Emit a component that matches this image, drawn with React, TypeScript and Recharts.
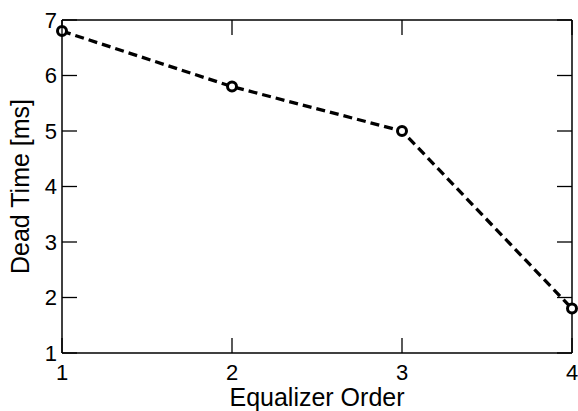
import React from "react";
import { LineChart, Line, XAxis, YAxis, Label } from "recharts";

const orders = [1, 2, 3, 4];
const deadTime = [6.8, 5.8, 5.0, 1.8];
const xTicks = [1, 2, 3, 4];
const yTicks = [1, 2, 3, 4, 5, 6, 7];

const data = orders.map((o, i) => ({ order: o, dead: deadTime[i] }));

const FONT = "'Liberation Sans', Arial, Helvetica, sans-serif";
const TICK_LEN = 15;
const TICK_STROKE = 1.3;

const LeftTick = (props: any) => {
  const { x, y, payload } = props;
  const axisX = x + 5;
  return (
    <g>
      <line x1={axisX} x2={axisX + TICK_LEN} y1={y} y2={y} stroke="#000" strokeWidth={TICK_STROKE} />
      <text x={x} y={y} textAnchor="end" dominantBaseline="central" fill="#000" fontSize={22} fontFamily={FONT}>
        {payload.value}
      </text>
    </g>
  );
};

const BottomTick = (props: any) => {
  const { x, y, payload } = props;
  const axisY = y - 10;
  return (
    <g>
      <line x1={x} x2={x} y1={axisY} y2={axisY - TICK_LEN} stroke="#000" strokeWidth={TICK_STROKE} />
      <text x={x} y={y} textAnchor="middle" dy="0.78em" fill="#000" fontSize={22} fontFamily={FONT}>
        {payload.value}
      </text>
    </g>
  );
};

const RightTick = (props: any) => {
  const { x, y } = props;
  return <line x1={x} x2={x - TICK_LEN} y1={y} y2={y} stroke="#000" strokeWidth={TICK_STROKE} />;
};

const TopTick = (props: any) => {
  const { x, y } = props;
  return <line x1={x} x2={x} y1={y} y2={y + TICK_LEN} stroke="#000" strokeWidth={TICK_STROKE} />;
};

export default function App() {
  return (
    <div style={{ position: "absolute", left: 0, top: 0, background: "#fff" }}>
      <LineChart
        width={578}
        height={411}
        data={data}
        margin={{ top: 19, right: 5, bottom: 0, left: 0 }}
      >
        <XAxis
          dataKey="order"
          type="number"
          domain={[1, 4]}
          ticks={xTicks}
          height={58}
          tickSize={0}
          tickMargin={10}
          tickLine={false}
          tick={<BottomTick />}
          stroke="#000"
          strokeWidth={1.5}
          interval={0}
        >
          <Label
            value="Equalizer Order"
            position="insideBottom"
            offset={5}
            style={{ fill: "#000", fontSize: 25, fontFamily: FONT }}
          />
        </XAxis>
        <XAxis
          xAxisId="top"
          orientation="top"
          dataKey="order"
          type="number"
          domain={[1, 4]}
          ticks={xTicks}
          height={1}
          tickSize={0}
          tickMargin={0}
          tickLine={false}
          tick={<TopTick />}
          stroke="#000"
          strokeWidth={1.5}
          interval={0}
        />
        <YAxis
          type="number"
          domain={[1, 7]}
          ticks={yTicks}
          width={62}
          tickSize={0}
          tickMargin={5}
          tickLine={false}
          tick={<LeftTick />}
          stroke="#000"
          strokeWidth={1.5}
          interval={0}
        >
          <Label
            content={(props: any) => {
              const vb = props.viewBox;
              const cx = vb.x + 20;
              const cy = vb.y + vb.height / 2;
              return (
                <text
                  x={cx}
                  y={cy}
                  transform={`rotate(-90 ${cx} ${cy})`}
                  textAnchor="middle"
                  dominantBaseline="central"
                  style={{ fill: "#000", fontSize: 25, fontFamily: FONT }}
                >
                  Dead Time [ms]
                </text>
              );
            }}
          />
        </YAxis>
        <YAxis
          yAxisId="right"
          orientation="right"
          type="number"
          domain={[1, 7]}
          ticks={yTicks}
          width={1}
          tickSize={0}
          tickMargin={0}
          tickLine={false}
          tick={<RightTick />}
          stroke="#000"
          strokeWidth={1.5}
          interval={0}
        />
        <Line
          xAxisId="top"
          yAxisId="right"
          type="linear"
          dataKey="dead"
          stroke="none"
          dot={false}
          activeDot={false}
          legendType="none"
          isAnimationActive={false}
        />
        <Line
          type="linear"
          dataKey="dead"
          stroke="#000"
          strokeWidth={3.3}
          strokeDasharray="9 5"
          dot={{ r: 4.5, fill: "#fff", stroke: "#000", strokeWidth: 3, strokeDasharray: "" }}
          isAnimationActive={false}
        />
      </LineChart>
    </div>
  );
}
